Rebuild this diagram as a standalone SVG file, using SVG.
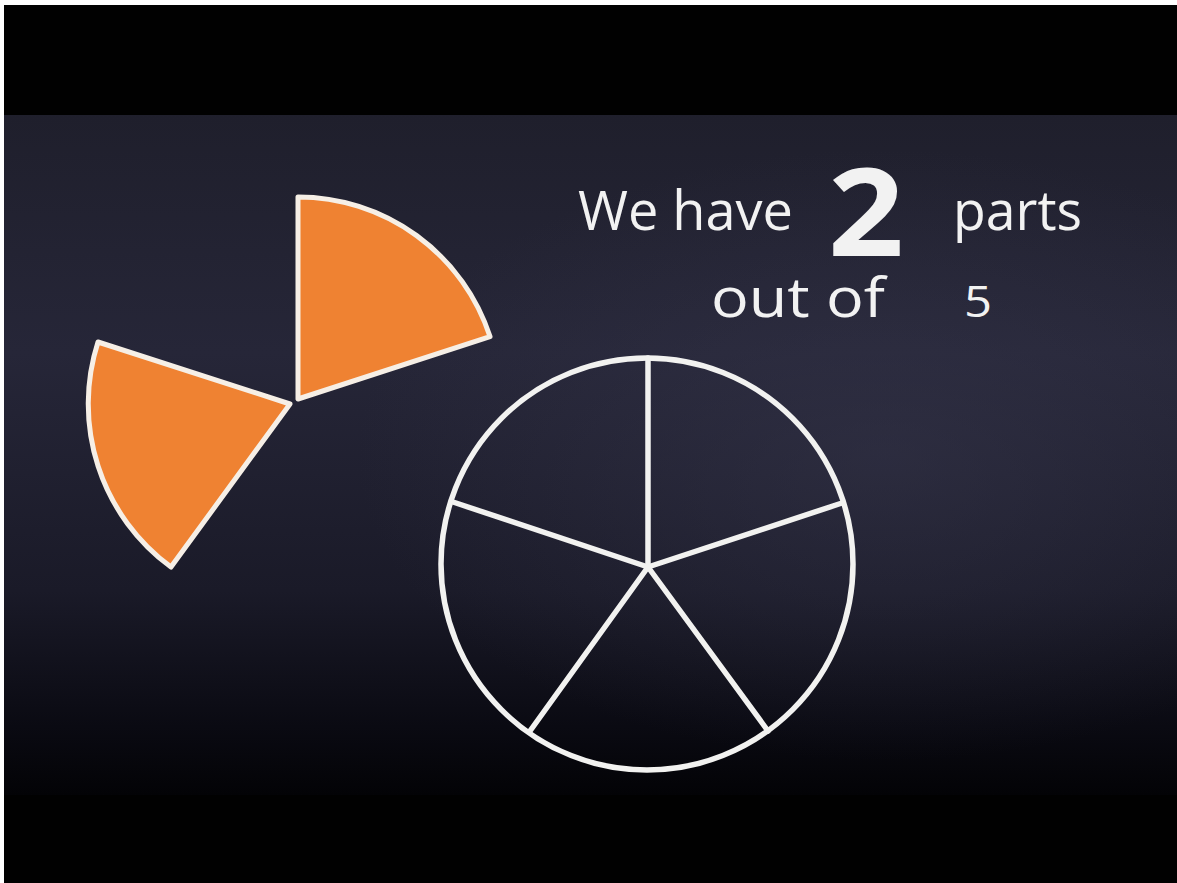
<svg xmlns="http://www.w3.org/2000/svg" width="1177" height="883" viewBox="0 0 1177 883">
<defs>
<linearGradient id="board" x1="0" y1="0" x2="0" y2="1">
<stop offset="0" stop-color="#1f1f2c"/>
<stop offset="0.35" stop-color="#262638"/>
<stop offset="0.7" stop-color="#1a1a28"/>
<stop offset="0.9" stop-color="#0a0a12"/>
<stop offset="1" stop-color="#030306"/>
</linearGradient>
<radialGradient id="glow" cx="0.75" cy="0.5" r="0.45">
<stop offset="0" stop-color="#3a3a50" stop-opacity="0.45"/>
<stop offset="1" stop-color="#3a3a50" stop-opacity="0"/>
</radialGradient>
<filter id="chalk" x="-5%" y="-5%" width="110%" height="110%">
<feGaussianBlur stdDeviation="0.6"/>
</filter>
<style>
.chalk{fill:none;stroke:#f2f2f0;stroke-width:5.5;stroke-linecap:round;stroke-linejoin:round}
.piece{fill:#ef8231;stroke:#f6efe6;stroke-width:5;stroke-linejoin:round}
.txt{fill:#f2f2f2;font-family:"Open Sans","Liberation Sans",sans-serif}
</style>
</defs>
<rect x="0" y="0" width="1177" height="883" fill="#ffffff"/>
<rect x="4" y="5" width="1173" height="878" fill="#010101"/>
<rect x="4" y="115" width="1173" height="680" fill="url(#board)"/>
<rect x="4" y="115" width="1173" height="680" fill="url(#glow)"/>

<g id="piece-upper" filter="url(#chalk)">
<path class="piece" d="M298,399 L298,197 A202,202 0 0 1 490,336.6 Z"/>
</g>
<g id="piece-left" filter="url(#chalk)">
<path class="piece" d="M290,404 L171,567 A202,202 0 0 1 98,342 Z"/>
</g>

<g id="whole-circle" filter="url(#chalk)">
<circle class="chalk" cx="647" cy="564" r="206"/>
</g>
<g id="connectors" filter="url(#chalk)">
<line class="chalk" x1="648" y1="567" x2="648" y2="358"/>
<line class="chalk" x1="648" y1="567" x2="842" y2="503"/>
<line class="chalk" x1="648" y1="567" x2="453" y2="502"/>
<line class="chalk" x1="648" y1="567" x2="530" y2="731"/>
<line class="chalk" x1="648" y1="567" x2="768" y2="731"/>
</g>

<g id="caption">
<text class="txt" x="578" y="230" font-size="54" textLength="215" lengthAdjust="spacingAndGlyphs">We have</text>
<text class="txt" x="828" y="256" font-size="122" font-weight="bold" textLength="76" lengthAdjust="spacingAndGlyphs">2</text>
<text class="txt" x="953" y="230" font-size="54" textLength="129" lengthAdjust="spacingAndGlyphs">parts</text>
<text class="txt" x="711" y="317" font-size="54" textLength="174" lengthAdjust="spacingAndGlyphs">out of</text>
<text class="txt" x="964" y="317" font-size="44" textLength="28" lengthAdjust="spacingAndGlyphs">5</text>
</g>
</svg>
